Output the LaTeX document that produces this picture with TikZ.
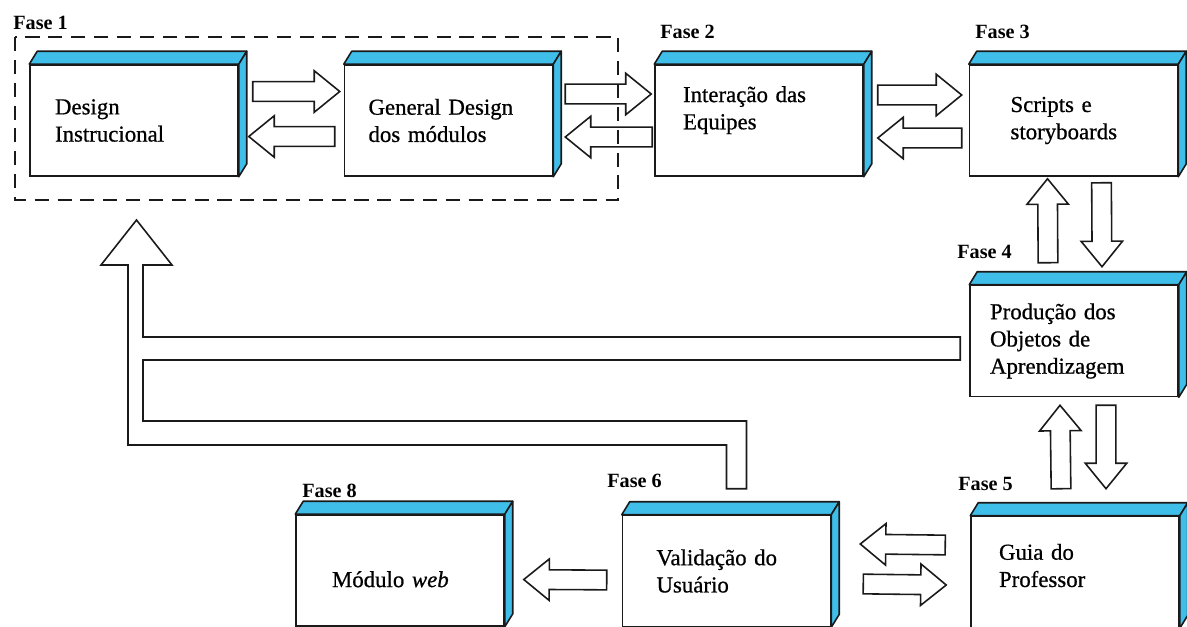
\documentclass[tikz,border=0pt]{standalone}
\usepackage{fontspec}
\setmainfont{Liberation Serif}
\newfontfamily\stagefont[FakeBold=0.7]{Liberation Serif}
\usepackage{xcolor}
\usetikzlibrary{calc}
\definecolor{FaseBlue}{HTML}{40BEEA}
\definecolor{FaseLine}{HTML}{1A1A1A}
\newcommand{\arrshaft}{5.6pt}
\newcommand{\arrhead}{11.8pt}
\newcommand{\arrtip}{14.5pt}
\newcommand{\solidbox}[1]{%
  \draw[depthface] (#1.north west) -- ++(8,-13) -- ($(#1.north east)+(8,-13)$) -- (#1.north east) -- cycle;
  \draw[depthface] (#1.north east) -- ++(8,-13) -- ($(#1.south east)+(8,-13)$) -- (#1.south east) -- cycle;}

\begin{document}
\begin{tikzpicture}[
  x=0.02cm, y=-0.02cm,
  stage/.style={draw=FaseLine, fill=white, line width=0.9pt, minimum width=4.16cm, minimum height=2.22cm,
    inner sep=0pt, align=left, font=\stagefont\fontsize{13}{15.5}\selectfont},
  phase/.style={anchor=base west, inner sep=0pt, font=\fontsize{11.5}{13}\selectfont\bfseries},
  depthface/.style={draw=FaseLine, fill=FaseBlue, line width=0.9pt, line join=round},
  phasegroup/.style={draw=FaseLine, line width=1pt, dash pattern=on 8pt off 5pt},
  blockarrow/.style={draw=FaseLine, fill=white, line width=0.9pt, to path={
    let \p1=(\tikztostart), \p2=(\tikztotarget), \p3=($(\p2)!\arrtip!(\p1)$),
        \n1={atan2(\y2-\y1,\x2-\x1)} in
    ($(\p1)+(\n1+90:\arrshaft)$) -- ($(\p3)+(\n1+90:\arrshaft)$) -- ($(\p3)+(\n1+90:\arrhead)$) -- (\p2)
    -- ($(\p3)+(\n1-90:\arrhead)$) -- ($(\p3)+(\n1-90:\arrshaft)$) -- ($(\p1)+(\n1-90:\arrshaft)$) -- cycle}},
  loopback/.style={draw=FaseLine, fill=white, line width=0.9pt}
]
\useasboundingbox (0,0) rectangle (1187,626);
\clip (0,0) rectangle (1187,626);

% phase boxes
\node[stage, text width=3.16cm] (dsg) at (134,120.5) {Design\\Instrucional};
\node[stage, text width=3.2cm] (gen) at (448.5,120.5) {General Design\\dos módulos};
\node[stage, text width=3.04cm, text depth=30pt] (int) at (759,120.5) {Interação das\\Equipes};
\node[stage, text width=2.52cm] (scr) at (1073.5,120.5) {Scripts e\\storyboards};
\node[stage, text width=3.36cm] (prd) at (1074,341) {Produção dos\\Objetos de\\Aprendizagem};
\node[stage, text width=3.04cm, text depth=23pt] (gui) at (1075,572) {Guia do\\Professor};
\node[stage, text width=2.8cm] (val) at (726.5,571) {Validação do\\Usuário};
\node[stage, text width=2.72cm, text height=19pt] (mod) at (400,570.5) {Módulo \textit{web}};

\solidbox{dsg}
\solidbox{gen}
\solidbox{int}
\solidbox{scr}
\solidbox{prd}
\solidbox{gui}
\solidbox{val}
\solidbox{mod}

% labels
\node[phase] (f1) at (13,29.5) {Fase 1};
\node[phase] (f2) at (660,38) {Fase 2};
\node[phase] (f3) at (975,38) {Fase 3};
\node[phase] (f4) at (957,258) {Fase 4};
\node[phase] (f5) at (958,490) {Fase 5};
\node[phase] (f6) at (607,487) {Fase 6};
\node[phase] (f8) at (302,497) {Fase 8};

% arrows between phases
\draw[blockarrow] ([shift={(14,-29)}]dsg.east) to ([shift={(-4,-29)}]gen.west);
\draw[blockarrow] ([shift={(-9,16)}]gen.west) to ([shift={(10,16)}]dsg.east);
\draw[blockarrow] ([shift={(12,-26.5)}]gen.east) to ([shift={(-3,-26.5)}]int.west);
\draw[blockarrow] ([shift={(-2,16.5)}]int.west) to ([shift={(12,16.5)}]gen.east);
\draw[blockarrow] ([shift={(14,-25.5)}]int.east) to ([shift={(-7,-25.5)}]scr.west);
\draw[blockarrow] ([shift={(-7,17.5)}]scr.west) to ([shift={(14,17.5)}]int.east);
\draw[blockarrow] ([shift={(-26,-22)}]prd.north) to ([shift={(-26,2)}]scr.south);
\draw[blockarrow] ([shift={(28,6)}]scr.south) to ([shift={(28,-18)}]prd.north);
\draw[blockarrow] ([shift={(-14,-27)}]gui.north) to ([shift={(-14,8)}]prd.south);
\draw[blockarrow] ([shift={(32,8)}]prd.south) to ([shift={(31,-27)}]gui.north);
\draw[blockarrow] ([shift={(-25,-27)}]gui.west) to ([shift={(29,-27)}]val.east);
\draw[blockarrow] ([shift={(32,13)}]val.east) to ([shift={(-24,13)}]gui.west);
\draw[blockarrow] ([shift={(-15,9)}]val.west) to ([shift={(19,9)}]mod.east);

% return path to fase 1
\draw[loopback] (128,445) -- (128,265) -- (101,265) -- (136.5,220) -- (172,265) -- (143,265) -- (143,337)
  -- ($(prd.west)+(-9,-4)$) -- ++(0,23) -- (143,360) -- (143,421)
  -| ($(val.north)+(20,-26)$) -- ++(-20,0) |- (128,445) -- cycle;

\draw[phasegroup] (15,37) rectangle (618,200);
\end{tikzpicture}
\end{document}
